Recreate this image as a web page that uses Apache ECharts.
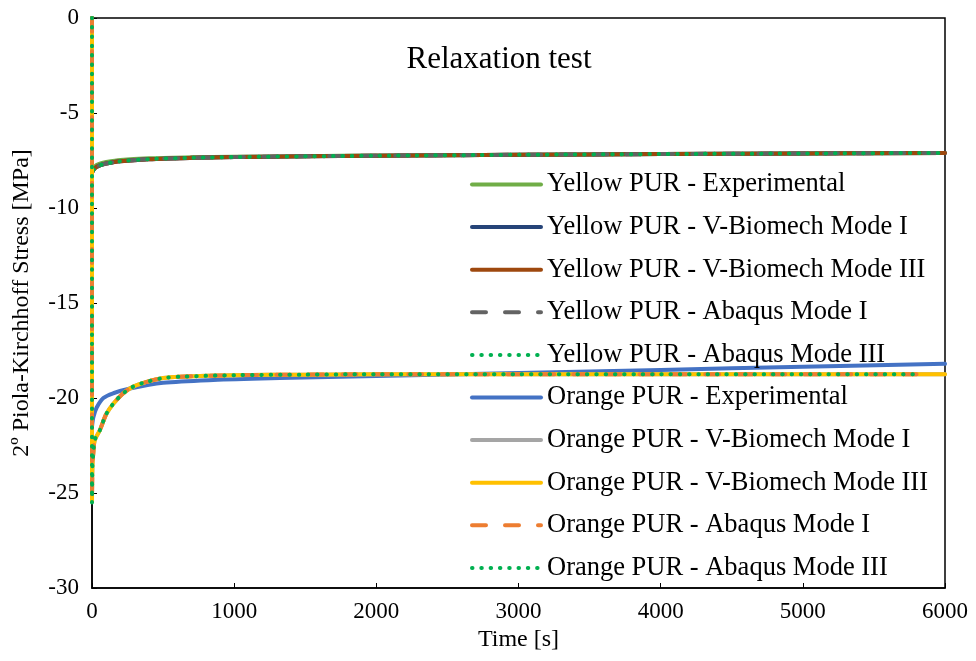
<!DOCTYPE html>
<html><head><meta charset="utf-8">
<script src="https://cdn.jsdelivr.net/npm/echarts@6/dist/echarts.min.js"></script>
<style>html,body{margin:0;padding:0;background:#fff}#c{width:976px;height:661px}</style>
</head><body><div id="c"></div>
<script>
// ---- data ----
const yellowTime = [0, 0, 10, 30, 60, 100, 200, 400, 700, 1000, 1500, 2000, 3000, 4000, 5000, 6000];
const yellowExp  = [0, -8.05, -7.9, -7.75, -7.65, -7.58, -7.47, -7.38, -7.33, -7.3, -7.27, -7.24, -7.2, -7.16, -7.13, -7.1];
const yellowVBI  = [0, -8.15, -8.0, -7.85, -7.74, -7.66, -7.54, -7.43, -7.36, -7.32, -7.28, -7.25, -7.2, -7.16, -7.13, -7.1];
const yellowVBIII= [0, -8.15, -8.0, -7.85, -7.74, -7.66, -7.54, -7.43, -7.36, -7.32, -7.28, -7.25, -7.2, -7.16, -7.13, -7.1];
const yellowAbI  = [0, -8.15, -8.0, -7.85, -7.74, -7.66, -7.54, -7.43, -7.36, -7.32, -7.28, -7.25, -7.2, -7.16, -7.13, -7.1];
const yellowAbIII= [0, -8.15, -8.0, -7.85, -7.74, -7.66, -7.54, -7.43, -7.36, -7.32, -7.28, -7.25, -7.2, -7.16, -7.13, -7.1];

const orangeExpTime = [0, 0, 10, 33, 80, 150, 267, 500, 853, 1320, 1660, 2000, 3000, 4000, 5000, 6000];
const orangeExp     = [0, -21.5, -21.0, -20.5, -20.0, -19.75, -19.5, -19.2, -19.05, -18.95, -18.9, -18.84, -18.68, -18.52, -18.36, -18.2];

const orangeModTime = [0, 0, 3, 10, 20, 55, 100, 150, 220, 290, 385, 500, 620, 1000, 1500, 2000, 3000, 4000, 5000, 5800, 6000];
const orangeVBI     = [0, -25.5, -23.6, -22.8, -22.2, -21.7, -20.85, -20.3, -19.75, -19.4, -19.15, -18.95, -18.88, -18.8, -18.77, -18.75, -18.75, -18.75, -18.75, -18.75, -18.75];
const orangeVBIII   = [0, -25.5, -23.6, -22.8, -22.2, -21.7, -20.85, -20.3, -19.75, -19.4, -19.15, -18.95, -18.88, -18.8, -18.77, -18.75, -18.75, -18.75, -18.75, -18.75, -18.75];
const orangeAbI     = [0, -25.5, -23.6, -22.8, -22.2, -21.7, -20.85, -20.3, -19.75, -19.4, -19.15, -18.95, -18.88, -18.8, -18.77, -18.75, -18.75, -18.75, -18.75, -18.75, null];
const orangeAbIII   = [0, -25.5, -23.6, -22.8, -22.2, -21.7, -20.85, -20.3, -19.75, -19.4, -19.15, -18.95, -18.88, -18.8, -18.77, -18.75, -18.75, -18.75, -18.75, -18.75, null];

const xTicks = [0, 1000, 2000, 3000, 4000, 5000, 6000];
const yTicks = [0, -5, -10, -15, -20, -25, -30];

function pairs(t, v) { return t.map((x, i) => [x, v[i]]); }

const FONT = '"Liberation Serif", "Times New Roman", serif';
const seriesDefs = [
  ['Yellow PUR - Experimental', yellowTime, yellowExp, '#70AD47', 'solid'],
  ['Yellow PUR - V-Biomech Mode I', yellowTime, yellowVBI, '#264478', 'solid'],
  ['Yellow PUR - V-Biomech Mode III', yellowTime, yellowVBIII, '#9E480E', 'solid'],
  ['Yellow PUR - Abaqus Mode I', yellowTime, yellowAbI, '#636363', [14, 19]],
  ['Yellow PUR - Abaqus Mode III', yellowTime, yellowAbIII, '#00B050', [0.5, 8.8]],
  ['Orange PUR - Experimental', orangeExpTime, orangeExp, '#4472C4', 'solid'],
  ['Orange PUR - V-Biomech Mode I', orangeModTime, orangeVBI, '#A5A5A5', 'solid'],
  ['Orange PUR - V-Biomech Mode III', orangeModTime, orangeVBIII, '#FFC000', 'solid'],
  ['Orange PUR - Abaqus Mode I', orangeModTime, orangeAbI, '#ED7D31', [14, 19]],
  ['Orange PUR - Abaqus Mode III', orangeModTime, orangeAbIII, '#00B050', [0.5, 8.8]]
];

const chart = echarts.init(document.getElementById('c'));
chart.setOption({
  animation: false,
  backgroundColor: '#fff',
  title: {
    text: 'Relaxation test', left: 499, top: 44, textAlign: 'center', padding: 0,
    textStyle: { fontFamily: FONT, fontSize: 31, fontWeight: 'normal', color: '#000' }
  },
  grid: { left: 92, right: 31, top: 18, bottom: 73, show: true, borderColor: '#000', borderWidth: 1.5 },
  legend: {
    orient: 'vertical', left: 470, top: 171, itemWidth: 69, itemHeight: 20,
    itemGap: 15.6, padding: 0,
    itemStyle: { opacity: 0 },
    lineStyle: { width: 4, cap: 'round' },
    textStyle: { fontFamily: FONT, fontSize: 26.5, color: '#000', lineHeight: 26, padding: [0, 0, 0, 1] },
    data: seriesDefs.map(s => s[0])
  },
  xAxis: {
    type: 'value', min: 0, max: 6000, interval: 1000,
    name: 'Time [s]', nameLocation: 'middle', nameGap: 34,
    nameTextStyle: { fontFamily: FONT, fontSize: 24, color: '#000' },
    axisLine: { onZero: false, lineStyle: { color: '#000', width: 1.5 } },
    axisTick: { inside: true, length: 5, lineStyle: { color: '#000' } },
    axisLabel: { fontFamily: FONT, fontSize: 23, color: '#000', margin: 12,
      formatter: v => xTicks.includes(v) ? String(v) : '' },
    splitLine: { show: false }
  },
  yAxis: {
    type: 'value', min: -30, max: 0, interval: 5,
    name: '2º Piola-Kirchhoff Stress [MPa]', nameLocation: 'middle', nameGap: 58,
    nameTextStyle: { fontFamily: FONT, fontSize: 24, color: '#000' },
    axisLine: { onZero: false, lineStyle: { color: '#000', width: 1.5 } },
    axisTick: { inside: true, length: 5, lineStyle: { color: '#000' } },
    axisLabel: { fontFamily: FONT, fontSize: 23, color: '#000', margin: 13,
      formatter: v => yTicks.includes(v) ? String(v) : '' },
    splitLine: { show: false }
  },
  series: seriesDefs.map(s => ({
    name: s[0], type: 'line', data: pairs(s[1], s[2]), smooth: 0.3,
    symbol: 'none', showSymbol: false, connectNulls: false,
    itemStyle: { color: s[3] },
    lineStyle: { color: s[3], width: 4, type: s[4], cap: 'round' }
  }))
});
</script></body></html>
